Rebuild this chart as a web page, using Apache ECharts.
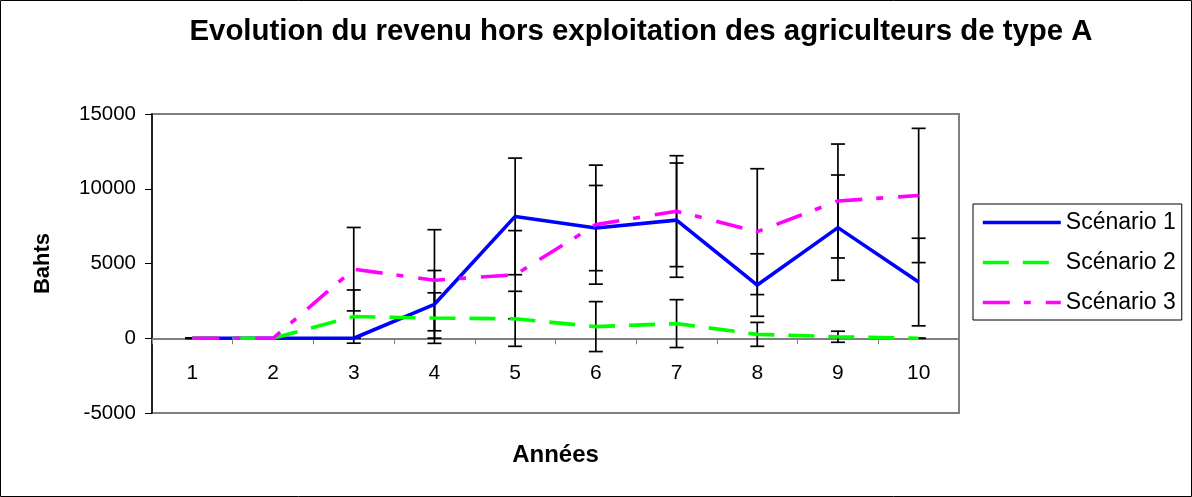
<!DOCTYPE html>
<html>
<head>
<meta charset="utf-8">
<script src="https://cdn.jsdelivr.net/npm/echarts@6/dist/echarts.min.js"></script>
<style>
  html, body { margin: 0; padding: 0; background: #fff; }
  #chart { width: 1192px; height: 497px; }
</style>
</head>
<body>
<div id="chart"></div>
<script>
// Années (axe des catégories)
const years = ['1', '2', '3', '4', '5', '6', '7', '8', '9', '10'];

// Revenu moyen hors exploitation (bahts) par scénario
const scenario1 = [0, 0, 0, 2270, 8150, 7370, 7900, 3560, 7400, 3760];
const scenario2 = [0, 0, 1450, 1350, 1300, 780, 980, 260, 100, 0];
const scenario3 = [0, 0, 4620, 3880, 4250, 7600, 8500, 7130, 9180, 9550];

// Écarts-types (barres d'erreur)
const ecart1 = [0, 0, 0, 2260, 3900, 2850, 3820, 2090, 3520, 2930];
const ecart2 = [0, 0, 1780, 1690, 1840, 1670, 1600, 800, 370, 0];
const ecart3 = [0, 0, 2790, 3380, 2950, 3980, 3710, 4210, 3810, 4490];

// Graduations de l'axe vertical
const yTicks = { min: -5000, max: 15000, step: 5000 };

const seriesNames = ['Scénario 1', 'Scénario 2', 'Scénario 3'];

const FONT = '"Liberation Sans", Arial, sans-serif';

// Zone de tracé
const GRID = { left: 152, right: 233, top: 114, bottom: 84 };
const CHART_H = 497;
const plotH = CHART_H - GRID.top - GRID.bottom;
// L'axe des années passe par la valeur 0 : décalage depuis le bas de la zone
const zeroOffset = plotH * (0 - yTicks.min) / (yTicks.max - yTicks.min);

function errorData(means, sds) {
  return means.map((m, i) => [i, m - sds[i], m + sds[i]]);
}

function renderErrorBar(params, api) {
  const x = api.value(0);
  const lo = api.coord([x, api.value(1)]);
  const hi = api.coord([x, api.value(2)]);
  const half = 7;
  const style = { stroke: '#000', lineWidth: 1.7 };
  return {
    type: 'group',
    children: [
      { type: 'line', shape: { x1: hi[0], y1: hi[1], x2: lo[0], y2: lo[1] }, style },
      { type: 'line', shape: { x1: hi[0] - half, y1: hi[1], x2: hi[0] + half, y2: hi[1] }, style },
      { type: 'line', shape: { x1: lo[0] - half, y1: lo[1], x2: lo[0] + half, y2: lo[1] }, style }
    ]
  };
}

function errorSeries(means, sds) {
  return {
    type: 'custom',
    renderItem: renderErrorBar,
    data: errorData(means, sds),
    encode: { x: 0, y: [1, 2] },
    silent: true,
    z: 2
  };
}

const lineStyles = [
  { color: '#0000FF', width: 3.6, type: 'solid' },
  { color: '#00FF00', width: 3.6, type: [26, 14] },
  { color: '#FF00FF', width: 3.6, type: [27, 14, 7, 15] }
];

function lineSeries(name, data, ls) {
  return {
    name,
    type: 'line',
    data,
    symbol: 'none',
    showSymbol: false,
    color: ls.color,
    lineStyle: { color: ls.color, width: ls.width, type: ls.type },
    z: 3,
    animation: false
  };
}

const chart = echarts.init(document.getElementById('chart'), null, { renderer: 'canvas' });

chart.setOption({
  animation: false,
  backgroundColor: '#fff',
  textStyle: { fontFamily: FONT },
  title: {
    text: 'Evolution du revenu hors exploitation des agriculteurs de type A',
    left: 636,
    textAlign: 'center',
    top: 12,
    textStyle: { fontFamily: FONT, fontSize: 29.4, fontWeight: 'bold', color: '#000' }
  },
  graphic: [
    {
      type: 'rect',
      shape: { x: 0.5, y: 0.5, width: 1191, height: 496 },
      style: { fill: 'none', stroke: '#000', lineWidth: 1 },
      z: 0
    }
  ],
  legend: {
    orient: 'vertical',
    left: 973,
    top: 204,
    width: 210,
    data: seriesNames,
    itemWidth: 78,
    itemHeight: 14,
    itemGap: 17,
    padding: [7, 6, 6, 8],
    borderColor: '#000',
    borderWidth: 1,
    itemStyle: { opacity: 0 },
    lineStyle: { width: 3.6 },
    textStyle: { fontFamily: FONT, fontSize: 23, color: '#000' }
  },
  grid: {
    left: GRID.left,
    right: GRID.right,
    top: GRID.top,
    bottom: GRID.bottom,
    containLabel: false,
    outerBoundsMode: 'none',
    show: true,
    borderColor: '#808080',
    borderWidth: 2,
    backgroundColor: '#fff'
  },
  xAxis: {
    type: 'category',
    data: years,
    boundaryGap: true,
    position: 'bottom',
    offset: -zeroOffset,
    name: 'Années',
    nameLocation: 'middle',
    nameGap: 105,
    nameTextStyle: { fontFamily: FONT, fontSize: 24, fontWeight: 'bold', color: '#000' },
    axisLine: { onZero: false, lineStyle: { color: '#808080', width: 2 } },
    axisTick: { show: true, inside: false, length: 6, lineStyle: { color: '#808080', width: 1 } },
    axisLabel: { fontFamily: FONT, fontSize: 21, color: '#000', margin: 24 },
    splitLine: { show: false }
  },
  yAxis: {
    type: 'value',
    min: yTicks.min,
    max: yTicks.max,
    interval: yTicks.step,
    name: 'Bahts',
    nameLocation: 'middle',
    nameRotate: 90,
    nameGap: 98,
    nameTextStyle: { fontFamily: FONT, fontSize: 22, fontWeight: 'bold', color: '#000' },
    axisLine: { show: true, lineStyle: { color: '#000', width: 1.5 } },
    axisTick: { show: true, inside: false, length: 7, lineStyle: { color: '#000', width: 1 } },
    axisLabel: { fontFamily: FONT, fontSize: 20.5, color: '#000', margin: 16, formatter: v => String(v) },
    splitLine: { show: false }
  },
  series: [
    errorSeries(scenario1, ecart1),
    errorSeries(scenario2, ecart2),
    errorSeries(scenario3, ecart3),
    lineSeries(seriesNames[0], scenario1, lineStyles[0]),
    lineSeries(seriesNames[1], scenario2, lineStyles[1]),
    lineSeries(seriesNames[2], scenario3, lineStyles[2])
  ]
});
</script>
</body>
</html>
